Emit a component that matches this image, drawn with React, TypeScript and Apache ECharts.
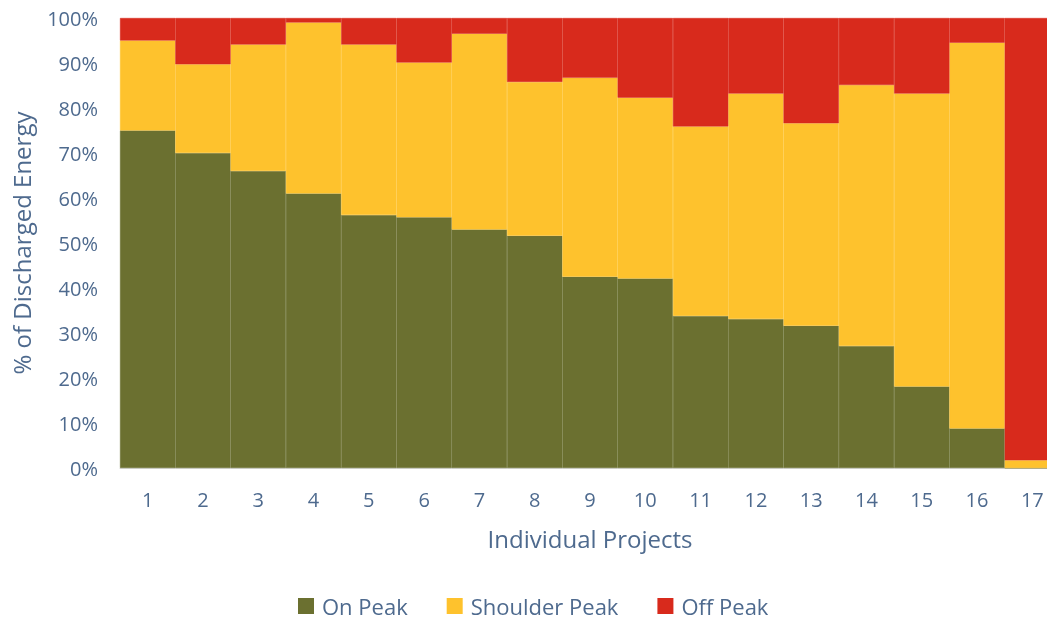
import React, { useEffect, useRef } from "react";
import * as echarts from "echarts";

const categories = ["1", "2", "3", "4", "5", "6", "7", "8", "9", "10", "11", "12", "13", "14", "15", "16", "17"];
const onPeak = [75, 70, 66, 61, 56.2, 55.7, 53, 51.6, 42.5, 42.1, 33.8, 33.1, 31.6, 27.1, 18.1, 8.8, 0];
const shoulderPeak = [20, 19.7, 28.1, 38, 37.9, 34.4, 43.5, 34.2, 44.2, 40.2, 42.1, 50.1, 45, 58, 65.1, 85.7, 1.7];
const offPeak = [5, 10.3, 5.9, 1, 5.9, 9.9, 3.5, 14.2, 13.3, 17.7, 24.1, 16.8, 23.4, 14.9, 16.8, 5.5, 98.3];
const seriesNames = ["On Peak", "Shoulder Peak", "Off Peak"];

const TEXT = "#4E6A8E";
const FONT = "Open Sans";

export default function App() {
  const ref = useRef<HTMLDivElement>(null);
  useEffect(() => {
    if (!ref.current) return;
    const chart = echarts.init(ref.current, undefined, { renderer: "svg" });
    const colors = ["#6B7030", "#FEC22D", "#D82A1C"];
    const datas = [onPeak, shoulderPeak, offPeak];
    chart.setOption({
      animation: false,
      textStyle: { fontFamily: FONT },
      grid: { left: 120, top: 18, bottom: 152, right: 0 },
      legend: {
        top: 595,
        left: 298,
        padding: 0,
        itemWidth: 14,
        itemHeight: 14,
        itemGap: 39,
        icon: "rect",
        textStyle: { color: TEXT, fontSize: 22, lineHeight: 22, fontFamily: FONT, padding: [0, 0, 0, 4] },
        data: seriesNames,
      },
      xAxis: {
        type: "category",
        data: categories,
        name: "Individual Projects",
        nameLocation: "middle",
        nameGap: 58,
        nameTextStyle: { color: TEXT, fontSize: 24, fontFamily: FONT },
        axisTick: { show: false },
        axisLine: { show: true, lineStyle: { color: "#D9D9D9", width: 1 } },
        axisLabel: { color: TEXT, fontSize: 20, margin: 21, fontFamily: FONT },
      },
      yAxis: {
        type: "value",
        min: 0,
        max: 100,
        interval: 10,
        name: "% of Discharged Energy",
        nameLocation: "middle",
        nameGap: 87,
        nameTextStyle: { color: TEXT, fontSize: 24, fontFamily: FONT },
        splitLine: { show: false },
        axisLine: { show: false },
        axisTick: { show: false },
        axisLabel: { color: TEXT, fontSize: 20, margin: 22, formatter: "{value}%", fontFamily: FONT },
      },
      series: seriesNames.map((n, i) => ({
        name: n,
        type: "bar",
        stack: "total",
        barCategoryGap: "0%",
        itemStyle: { color: colors[i], borderColor: colors[i], borderWidth: 0.5 },
        data: datas[i],
      })),
    });
    return () => chart.dispose();
  }, []);
  return (
    <div style={{ position: "fixed", left: 0, top: 0, width: 1047, height: 620, overflow: "hidden" }}>
      <div ref={ref} style={{ width: 1060, height: 620 }} />
    </div>
  );
}
